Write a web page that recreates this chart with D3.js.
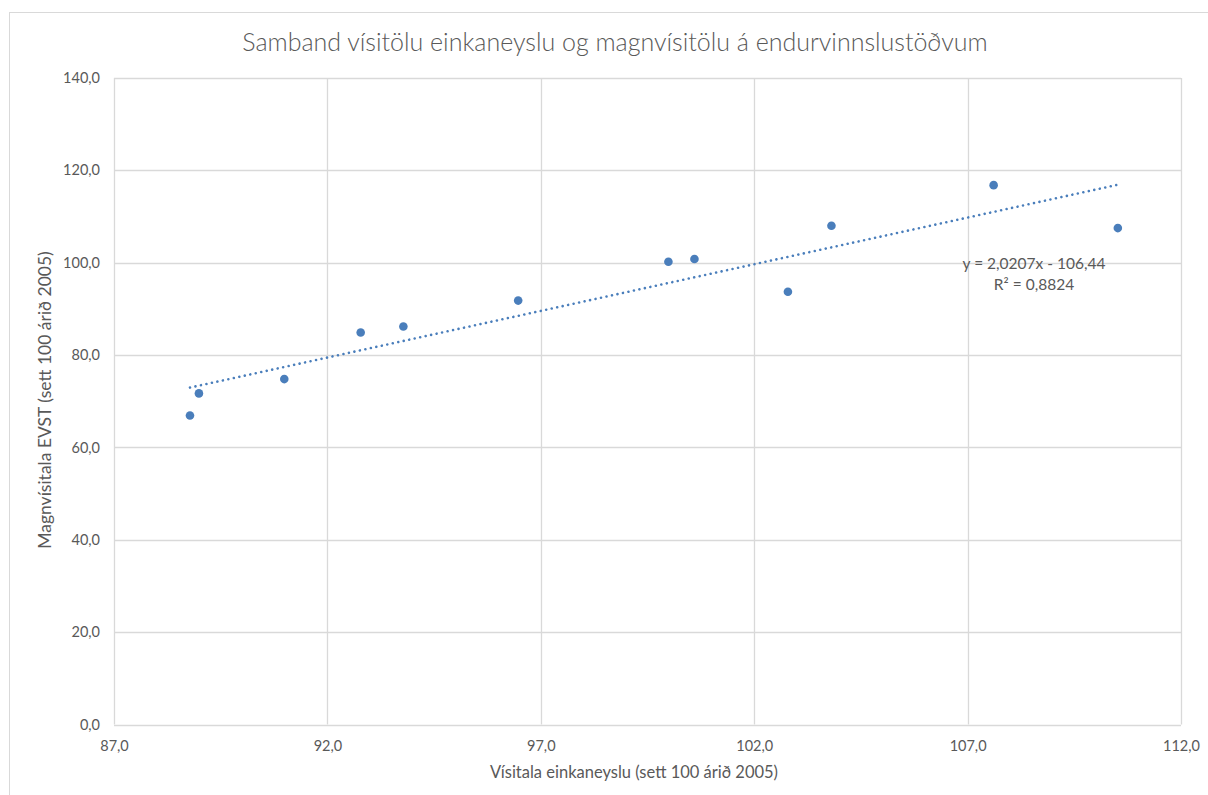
<html>
<head>
<meta charset="utf-8">
<script src="https://d3js.org/d3.v7.min.js"></script>
<style>
body { margin: 0; background: #fff; }
text { font-family: Lato, "Open Sans", sans-serif; }
</style>
</head>
<body>
<div id="chart"></div>
<script>

const gridColor = "#d9d9d9";
const labelColor = "#595959";
const pointColor = "#4a7ebb";

// visitala einkaneyslu (x) og magnvisitala EVST (y)
var xValues = [88.78, 88.99, 90.99, 92.78, 93.78, 96.47, 99.99, 100.60, 102.79, 103.81, 107.61, 110.52];
var yValues = [66.9, 71.7, 74.8, 84.9, 86.2, 91.8, 100.2, 100.8, 93.7, 108.0, 116.8, 107.5];
var xTicks = [87, 92, 97, 102, 107, 112];
var yTicks = [0, 20, 40, 60, 80, 100, 120, 140];
var trendSlope = 2.0207;
var trendIntercept = -106.44;
var trendLabels = ["y = 2,0207x - 106,44", "R\u00b2 = 0,8824"];

var points = xValues.map(function (v, i) { return { x: v, y: yValues[i] }; });
var fmt = function (v) { return d3.format(".1f")(v).replace(".", ","); };

var svg = d3.select("#chart").append("svg")
            .attr("width", 1208)
            .attr("height", 795);

// chart border
svg.append("rect")
   .attr("x", 9.5).attr("y", 12.5)
   .attr("width", 1210).attr("height", 800)
   .attr("fill", "#fff")
   .attr("stroke", gridColor);

var x = d3.scaleLinear().domain([87, 112]).range([114, 1181]);
var y = d3.scaleLinear().domain([0, 140]).range([724.5, 78]);

// gridlines
svg.append("g")
   .selectAll("line.v")
   .data(xTicks)
   .enter().append("line")
   .attr("x1", function (d) { return Math.round(x(d)) + 0.5; })
   .attr("x2", function (d) { return Math.round(x(d)) + 0.5; })
   .attr("y1", y(140))
   .attr("y2", y(0))
   .attr("stroke", gridColor)
   .attr("stroke-width", 1.3);

svg.append("g")
   .selectAll("line.h")
   .data(yTicks)
   .enter().append("line")
   .attr("x1", x(87))
   .attr("x2", x(112))
   .attr("y1", function (d) { return Math.round(y(d)) + 0.5; })
   .attr("y2", function (d) { return Math.round(y(d)) + 0.5; })
   .attr("stroke", gridColor)
   .attr("stroke-width", 1.3);

// axis labels with d3 axes, domain and ticks hidden
var xAxis = svg.append("g")
   .attr("transform", "translate(0," + y(0) + ")")
   .call(d3.axisBottom(x).tickValues(xTicks).tickFormat(fmt).tickSize(0).tickPadding(16));
var yAxis = svg.append("g")
   .attr("transform", "translate(" + x(87) + ",0)")
   .call(d3.axisLeft(y).tickValues(yTicks).tickFormat(fmt).tickSize(0).tickPadding(14));
[xAxis, yAxis].forEach(function (a) {
  a.select(".domain").remove();
  a.selectAll("text").attr("fill", labelColor).attr("font-size", "14.5px")
   .style("font-family", "Lato, 'Open Sans', sans-serif");
});

// trendline
var xMin = d3.min(xValues), xMax = d3.max(xValues);
svg.append("line")
   .attr("x1", x(xMin))
   .attr("y1", y(trendSlope * xMin + trendIntercept))
   .attr("x2", x(xMax))
   .attr("y2", y(trendSlope * xMax + trendIntercept))
   .attr("stroke", pointColor)
   .attr("stroke-width", 2.6)
   .attr("stroke-linecap", "round")
   .attr("stroke-dasharray", "0.01 5.6");

// points
svg.selectAll("circle")
   .data(points)
   .enter().append("circle")
   .attr("cx", function (d) { return x(d.x); })
   .attr("cy", function (d) { return y(d.y); })
   .attr("r", 4.3)
   .attr("fill", pointColor);

// trend equation
svg.selectAll("text.eq")
   .data(trendLabels)
   .enter().append("text")
   .attr("class", "eq")
   .attr("x", 1034)
   .attr("y", function (d, i) { return 269 + i * 21; })
   .attr("text-anchor", "middle")
   .attr("font-size", "15.5px")
   .attr("fill", labelColor)
   .text(function (d) { return d; });

// title
svg.append("text")
   .attr("x", 615)
   .attr("y", 51)
   .attr("text-anchor", "middle")
   .attr("font-size", "25px")
   .attr("font-weight", 300)
   .attr("fill", labelColor)
   .text("Samband vísitölu einkaneyslu og magnvísitölu á endurvinnslustöðvum");

// axis titles
svg.append("text")
   .attr("x", 634)
   .attr("y", 778)
   .attr("text-anchor", "middle")
   .attr("font-size", "16.5px")
   .attr("fill", labelColor)
   .text("Vísitala einkaneyslu (sett 100 árið 2005)");

svg.append("text")
   .attr("transform", "translate(51,400) rotate(-90)")
   .attr("text-anchor", "middle")
   .attr("font-size", "17.5px")
   .attr("fill", labelColor)
   .text("Magnvísitala EVST (sett 100 árið 2005)");

</script>
</body>
</html>
